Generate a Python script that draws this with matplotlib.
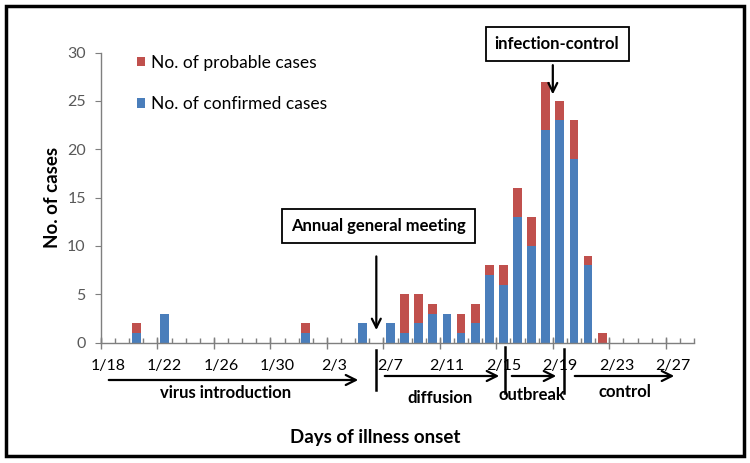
import matplotlib
matplotlib.use("Agg")
import matplotlib.pyplot as plt
from matplotlib.patches import Rectangle, FancyArrowPatch
from matplotlib.lines import Line2D
import numpy as np

# ---- data ----
dates = ["1/18", "1/19", "1/20", "1/21", "1/22", "1/23", "1/24", "1/25", "1/26", "1/27",
         "1/28", "1/29", "1/30", "1/31", "2/1", "2/2", "2/3", "2/4", "2/5", "2/6",
         "2/7", "2/8", "2/9", "2/10", "2/11", "2/12", "2/13", "2/14", "2/15", "2/16",
         "2/17", "2/18", "2/19", "2/20", "2/21", "2/22", "2/23", "2/24", "2/25", "2/26",
         "2/27", "2/28"]
confirmed = [0, 0, 1, 0, 3, 0, 0, 0, 0, 0,
             0, 0, 0, 0, 1, 0, 0, 0, 2, 0,
             2, 1, 2, 3, 3, 1, 2, 7, 6, 13,
             10, 22, 23, 19, 8, 0, 0, 0, 0, 0,
             0, 0]
probable = [0, 0, 1, 0, 0, 0, 0, 0, 0, 0,
            0, 0, 0, 0, 1, 0, 0, 0, 0, 0,
            0, 4, 3, 1, 0, 2, 2, 1, 2, 3,
            3, 5, 2, 4, 1, 1, 0, 0, 0, 0,
            0, 0]
label_every = 4
yticks = [0, 5, 10, 15, 20, 25, 30]
meeting_date = "2/6"
control_date_pos = 31.5  # between 2/18 and 2/19

W, H = 750, 463
def fx(x): return x / W
def fy(y): return 1 - y / H

FONT = ["Lato", "DejaVu Sans"]
plt.rcParams['font.family'] = FONT

BLUE = "#4A7EBB"
RED = "#C0504D"
GRAY = "#595959"

fig = plt.figure(figsize=(7.5, 4.63), dpi=100)
ax = fig.add_axes([fx(101), fy(342.5), fx(694) - fx(101), fy(52.7) - fy(342.5)])

x = np.arange(len(dates))
bw = 0.62
ax.bar(x, confirmed, width=bw, color=BLUE, label="No. of confirmed cases", zorder=2)
ax.bar(x, probable, width=bw, bottom=confirmed, color=RED, label="No. of probable cases", zorder=2)

ax.set_xlim(-0.5, len(dates) - 0.5)
ax.set_ylim(0, 30)

for s in ["top", "right"]:
    ax.spines[s].set_visible(False)
for s in ["left", "bottom"]:
    ax.spines[s].set_color("#7f7f7f")
    ax.spines[s].set_linewidth(1.0)

# x tick labels at category centers
lab_pos = x[::label_every]
ax.set_xticks(lab_pos)
ax.set_xticklabels([dates[i] for i in lab_pos], fontsize=11.5, color="black")
ax.tick_params(axis="x", which="major", length=0, pad=12)
# minor ticks at category boundaries
ax.set_xticks(np.arange(-0.5, len(dates)), minor=True)
ax.tick_params(axis="x", which="minor", direction="in", length=3.5, color="#7f7f7f", width=1)
# long ticks every 4 categories
sec = ax.secondary_xaxis("bottom")
sec.set_xticks(np.arange(-0.5, len(dates), label_every))
sec.set_xticklabels([])
sec.tick_params(axis="x", direction="inout", length=8, color="#7f7f7f", width=1)
sec.spines["bottom"].set_visible(False)

ax.set_yticks(yticks)
ax.set_yticklabels([str(v) for v in yticks], fontsize=11.5, color=GRAY)
ax.tick_params(axis="y", direction="out", length=4, color="#7f7f7f", pad=7)

ax.set_ylabel("No. of cases", fontsize=13.5, fontweight="bold", labelpad=4)
fig.text(fx(375), fy(437), "Days of illness onset", fontsize=13.5, fontweight="bold",
         ha="center", va="center")

# legend
h, l = ax.get_legend_handles_labels()
leg = ax.legend(h[::-1], l[::-1], loc="upper left", bbox_to_anchor=(fx(121), fy(39)),
                bbox_transform=fig.transFigure, frameon=False, fontsize=12.5,
                handlelength=0.5, handleheight=0.5, handletextpad=0.35, labelspacing=1.45)

# annotations
mi = dates.index(meeting_date)
ax.text(mi + 0.15, 12.05, "Annual general meeting", fontsize=12, fontweight="bold",
        ha="center", va="center",
        bbox=dict(boxstyle="square,pad=0.55", fc="white", ec="black", lw=1.3))
ax.annotate("", xy=(mi, 1.0), xytext=(mi, 9.2),
            arrowprops=dict(arrowstyle="->", lw=1.6, color="black", mutation_scale=16))

ax.text(control_date_pos + 0.3, 30.9, "infection-control", fontsize=12, fontweight="bold",
        ha="center", va="center", clip_on=False,
        bbox=dict(boxstyle="square,pad=0.55", fc="white", ec="black", lw=1.3))
ax.annotate("", xy=(control_date_pos, 25.4), xytext=(control_date_pos, 29.0),
            arrowprops=dict(arrowstyle="->", lw=1.6, color="black", mutation_scale=16),
            annotation_clip=False)

# phase arrows below axis
def harrow(x0, x1, y):
    fig.add_artist(FancyArrowPatch(
        (fx(x0), fy(y)), (fx(x1), fy(y)), transform=fig.transFigure,
        arrowstyle="->", mutation_scale=18, lw=1.6, color="black"))

def vline(xp, y0, y1):
    fig.add_artist(Line2D([fx(xp), fx(xp)], [fy(y0), fy(y1)], transform=fig.transFigure,
                          color="black", lw=1.8))

harrow(106, 361, 380)
harrow(382, 502, 376)
harrow(509, 559, 376)
harrow(572, 677, 376)
vline(376, 350, 390)
vline(505, 347, 393)
vline(564, 349, 393)

fig.text(fx(226), fy(393), "virus introduction", fontsize=12, fontweight="bold", ha="center", va="center")
fig.text(fx(440), fy(398), "diffusion", fontsize=12, fontweight="bold", ha="center", va="center")
fig.text(fx(532), fy(395), "outbreak", fontsize=12, fontweight="bold", ha="center", va="center")
fig.text(fx(625), fy(392), "control", fontsize=12, fontweight="bold", ha="center", va="center")

# outer frame
fig.add_artist(Rectangle((fx(6), fy(456)), fx(744) - fx(6), fy(6) - fy(456),
                         transform=fig.transFigure, fill=False, ec="black", lw=2.5))

fig.savefig("out.png", dpi=100)
